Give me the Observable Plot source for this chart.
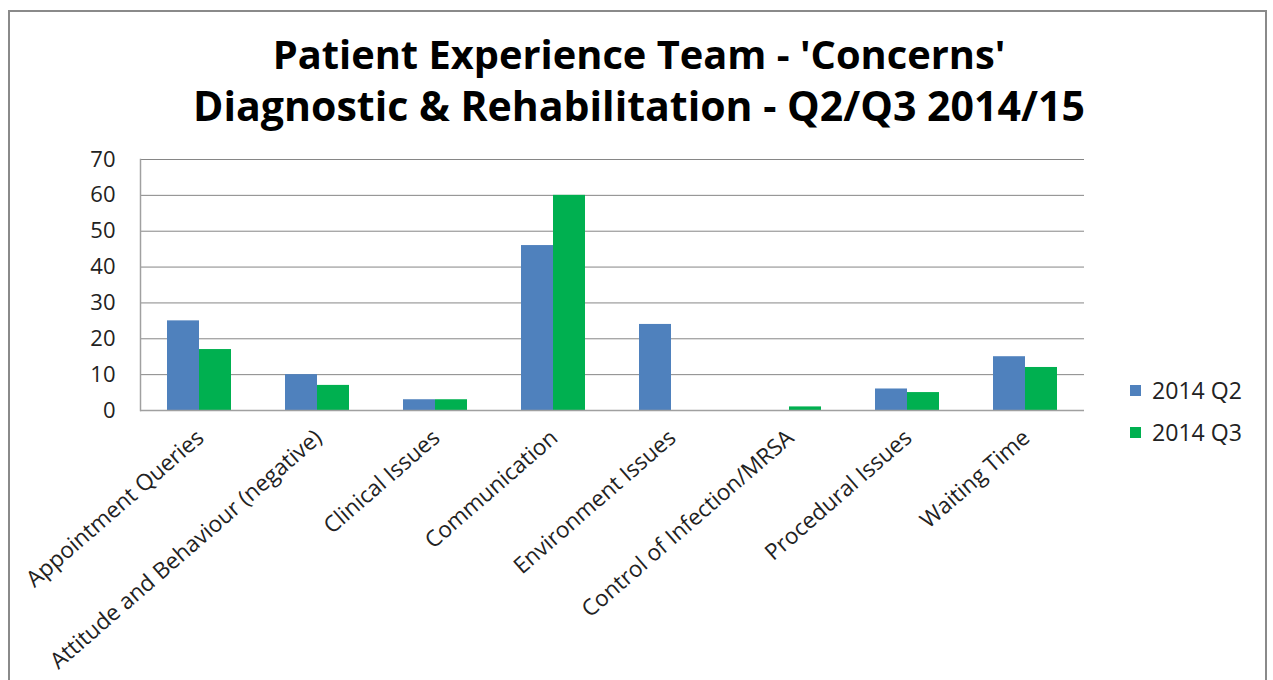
<!DOCTYPE html>
<html>
<head>
<meta charset="utf-8">
<script src="https://cdn.jsdelivr.net/npm/d3@7"></script>
<script src="https://cdn.jsdelivr.net/npm/@observablehq/plot@0.6"></script>
<style>
  body { margin: 0; background: #fff; }
  #wrap { position: relative; width: 1273px; height: 680px; overflow: hidden; font-family: "Open Sans", sans-serif; color: #000; }
  #frame { position: absolute; left: 8px; top: 10px; width: 1259px; height: 720px; border: 2px solid #8a8a8a; box-sizing: border-box; }
  .tline { position: absolute; left: 0; width: 1278px; text-align: center; font-weight: bold; white-space: nowrap; }
  #chart { position: absolute; left: 0; top: 140px; }
  #legend { position: absolute; left: 1130px; top: 375px; }
  .li { display: flex; align-items: center; height: 30px; margin-bottom: 12px; }
  .sw { width: 11px; height: 11px; margin-right: 11px; }
</style>
</head>
<body>
<div id="wrap">
  <div id="frame"></div>
  <div class="tline" id="t1"></div>
  <div class="tline" id="t2"></div>
  <div id="chart"></div>
  <div id="legend"></div>
</div>
<script>
const titleLines = ["Patient Experience Team - 'Concerns'", "Diagnostic & Rehabilitation - Q2/Q3 2014/15"];
const categories = ["Appointment Queries", "Attitude and Behaviour (negative)", "Clinical Issues", "Communication", "Environment Issues", "Control of Infection/MRSA", "Procedural Issues", "Waiting Time"];
const series = ["2014 Q2", "2014 Q3"];
const q2 = [25, 10, 3, 46, 24, 0, 6, 15];
const q3 = [17, 7, 3, 60, 0, 1, 5, 12];
const yTicks = [0, 10, 20, 30, 40, 50, 60, 70];
const colors = ["#4F81BD", "#00B050"];

// font-size fitting helper (reference uses a narrower face; match text lengths)
const ctx = document.createElement("canvas").getContext("2d");
function fit(text, target, weight) {
  ctx.font = `${weight || "normal"} 40px 'Open Sans'`;
  return 40 * target / ctx.measureText(text).width;
}

const targetW = [733, 892];
const tops = [29, 80];
["t1", "t2"].forEach((id, i) => {
  const el = document.getElementById(id);
  el.textContent = titleLines[i];
  el.style.fontSize = fit(titleLines[i], targetW[i], "bold") + "px";
  el.style.lineHeight = "50px";
  el.style.top = tops[i] + "px";
});

const catSize = (fit(categories[0], 226) + fit(categories[5], 272)) / 2;
const legSize = fit(series[0], 90);

const data = categories.flatMap((c, i) => [
  {cat: c, s: series[0], v: q2[i]},
  {cat: c, s: series[1], v: q3[i]}
]);

const chart = Plot.plot({
  width: 1273,
  height: 540,
  marginLeft: 137,
  marginRight: 186,
  marginTop: 19,
  marginBottom: 270,
  style: {fontFamily: "'Open Sans', sans-serif", fontSize: "20px", color: "#000", background: "transparent"},
  fx: {domain: categories, padding: 0, label: null, axis: null},
  x: {domain: series, paddingInner: 0, paddingOuter: 0.8, axis: null},
  y: {domain: [0, 70], label: null, axis: null},
  color: {domain: series, range: colors},
  marks: [
    Plot.gridY(yTicks, {stroke: "#868686", strokeOpacity: 1, strokeWidth: 1}),
    Plot.barY(data, {fx: "cat", x: "s", y: "v", fill: "s", inset: 0}),
    Plot.ruleY([0], {stroke: "#a0a0a0", strokeWidth: 1.5}),
    Plot.axisY(yTicks, {tickSize: 0, tickPadding: 25, fontSize: 22, label: null, fill: "#222"}),
    Plot.frame({anchor: "left", facetAnchor: "left", stroke: "#a0a0a0", strokeWidth: 1.5}),
    Plot.axisFx({anchor: "bottom", tickRotate: -41, tickSize: 0, tickPadding: 24, dx: 1, fontSize: catSize, label: null, fill: "#222"})
  ]
});
document.getElementById("chart").appendChild(chart);

const legend = document.getElementById("legend");
legend.style.fontSize = legSize + "px";
series.forEach((s, i) => {
  const row = document.createElement("div");
  row.className = "li";
  const sw = document.createElement("div");
  sw.className = "sw"; sw.style.background = colors[i];
  const tx = document.createElement("span");
  tx.textContent = s; tx.style.color = "#222";
  row.appendChild(sw); row.appendChild(tx);
  legend.appendChild(row);
});
</script>
</body>
</html>
